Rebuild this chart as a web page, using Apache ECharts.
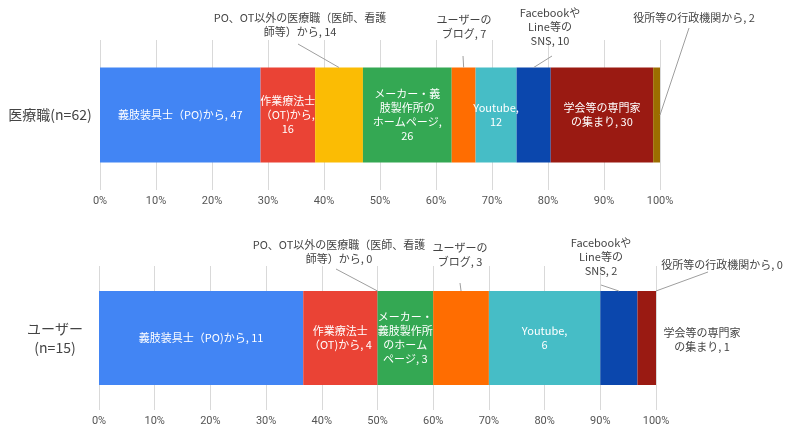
<!DOCTYPE html>
<html>
<head>
<meta charset="utf-8">
<script src="https://cdn.jsdelivr.net/npm/echarts@6/dist/echarts.min.js"></script>
<style>
  html, body { margin: 0; padding: 0; background: #fff; }
  #main { width: 786px; height: 432px; }
</style>
</head>
<body>
<div id="main"></div>
<script>
// 回答者グループ
const groups = ['医療職(n=62)', 'ユーザー\n(n=15)']
// 情報源
const sources = [
  '義肢装具士（PO)から',
  '作業療法士（OT)から',
  'PO、OT以外の医療職（医師、看護師等）から',
  'メーカー・義肢製作所のホームページ',
  'ユーザーのブログ',
  'Youtube',
  'FacebookやLine等のSNS',
  '学会等の専門家の集まり',
  '役所等の行政機関から'
]
const medicalCounts = [47, 16, 14, 26, 7, 12, 10, 30, 2]
const userCounts = [11, 4, 0, 3, 3, 6, 2, 1, 0]
const colors = ['#4285F4', '#EA4335', '#FBBC04', '#34A853', '#FF6D01', '#46BDC6', '#0B47AD', '#9A1A12', '#9C6D00']

// ラベルの改行位置（バーごとに異なる）
const medicalLabelText = [
  '義肢装具士（PO)から, {n}',
  '作業療法士\n（OT)から,\n{n}',
  'PO、OT以外の医療職（医師、看護\n師等）から, {n}',
  'メーカー・義\n肢製作所の\nホームページ,\n{n}',
  'ユーザーの\nブログ, {n}',
  'Youtube,\n{n}',
  'Facebookや\nLine等の\nSNS, {n}',
  '学会等の専門家\nの集まり, {n}',
  '役所等の行政機関から, {n}'
]
const userLabelText = [
  '義肢装具士（PO)から, {n}',
  '作業療法士\n（OT)から, {n}',
  'PO、OT以外の医療職（医師、看護\n師等）から, {n}',
  'メーカー・\n義肢製作所\nのホーム\nページ, {n}',
  'ユーザーの\nブログ, {n}',
  'Youtube,\n{n}',
  'Facebookや\nLine等の\nSNS, {n}',
  '学会等の専門家\nの集まり, {n}',
  '役所等の行政機関から, {n}'
]

// 外側ラベルの位置（null = バー内）、sy = 引き出し線の始点
const medicalOutside = [
  null, null, { x: 300, y: 25, sx: 298, sy: 44 }, null, { x: 464, y: 27, sx: 463, sy: 56 }, null,
  { x: 550, y: 27, sx: 552, sy: 56 }, null, { x: 694, y: 18, sx: 689, sy: 28, end: 'right' }
]
const userOutside = [
  null, null, { x: 339, y: 252, sx: 336, sy: 269 }, null, { x: 460, y: 255, sx: 460, sy: 283 }, null,
  { x: 601, y: 257, sx: 601, sy: 285 }, { x: 702, y: 340, noLine: true }, { x: 722, y: 265, sx: 708, sy: 272, end: 'corner' }
]
const barWidths = [95, 94]

const chart = echarts.init(document.getElementById('main'))

function buildSeries(counts, texts, outside, gi) {
  let total = counts.reduce((a, b) => a + b, 0)
  let list = counts.map((c, i) => {
    let out = outside[i]
    let s = {
      name: sources[i],
      type: 'bar',
      stack: 'g' + gi,
      xAxisIndex: gi,
      yAxisIndex: gi,
      barWidth: barWidths[gi],
      itemStyle: { color: colors[i] },
      data: [c / total * 100],
      label: {
        show: true,
        position: 'inside',
        color: out ? '#444' : '#fff',
        fontSize: 11,
        lineHeight: 14,
        fontFamily: 'Noto Sans CJK JP',
        align: 'center',
        formatter: () => texts[i].replace('{n}', c)
      }
    }
    if (out) {
      s.labelLayout = { x: out.x, y: out.y, align: 'center', verticalAlign: 'middle' }
    }
    return s
  })

  // 引き出し線（バー側の端点は軸の座標から）
  let lineData = []
  let cum = 0
  counts.forEach((c, i) => {
    let pct = c / total * 100
    let out = outside[i]
    if (out && !out.noLine) {
      let xv = out.end ? cum + pct : cum + pct / 2
      lineData.push([xv, 0, i])
    }
    cum += pct
  })
  list.push({
    type: 'custom',
    xAxisIndex: gi,
    yAxisIndex: gi,
    z: 5,
    silent: true,
    data: lineData,
    renderItem: function (params, api) {
      let out = outside[api.value(2)]
      let p = api.coord([api.value(0), api.value(1)])
      let half = barWidths[gi] / 2
      let ey = out.end === 'right' ? p[1] : p[1] - half
      return {
        type: 'line',
        shape: { x1: out.sx, y1: out.sy, x2: p[0], y2: ey },
        style: { stroke: '#9e9e9e', lineWidth: 1 }
      }
    }
  })
  return list
}

const xAxisCommon = {
  type: 'value',
  min: 0,
  max: 100,
  interval: 10,
  axisLine: { show: false },
  axisTick: { show: false },
  axisLabel: { formatter: '{value}%', color: '#555', fontSize: 11, margin: 6, fontFamily: 'Roboto' },
  splitLine: { lineStyle: { color: '#d9d9d9' } }
}
const yAxisCommon = {
  type: 'category',
  axisLine: { show: false },
  axisTick: { show: false },
  axisLabel: { color: '#444', fontSize: 14, lineHeight: 19, fontFamily: 'Noto Sans CJK JP', align: 'center' }
}

let option = {
  animation: false,
  grid: [
    { left: 100, right: 126, top: 40, height: 150 },
    { left: 99, right: 130, top: 266, height: 144 }
  ],
  xAxis: [
    Object.assign({ gridIndex: 0 }, xAxisCommon),
    Object.assign({ gridIndex: 1 }, xAxisCommon)
  ],
  yAxis: [
    Object.assign({ gridIndex: 0, data: [groups[0]] }, yAxisCommon, { axisLabel: Object.assign({}, yAxisCommon.axisLabel, { margin: 50 }) }),
    Object.assign({ gridIndex: 1, data: [groups[1]] }, yAxisCommon, { axisLabel: Object.assign({}, yAxisCommon.axisLabel, { margin: 44 }) })
  ],
  series: buildSeries(medicalCounts, medicalLabelText, medicalOutside, 0)
    .concat(buildSeries(userCounts, userLabelText, userOutside, 1))
}
chart.setOption(option)
</script>
</body>
</html>
